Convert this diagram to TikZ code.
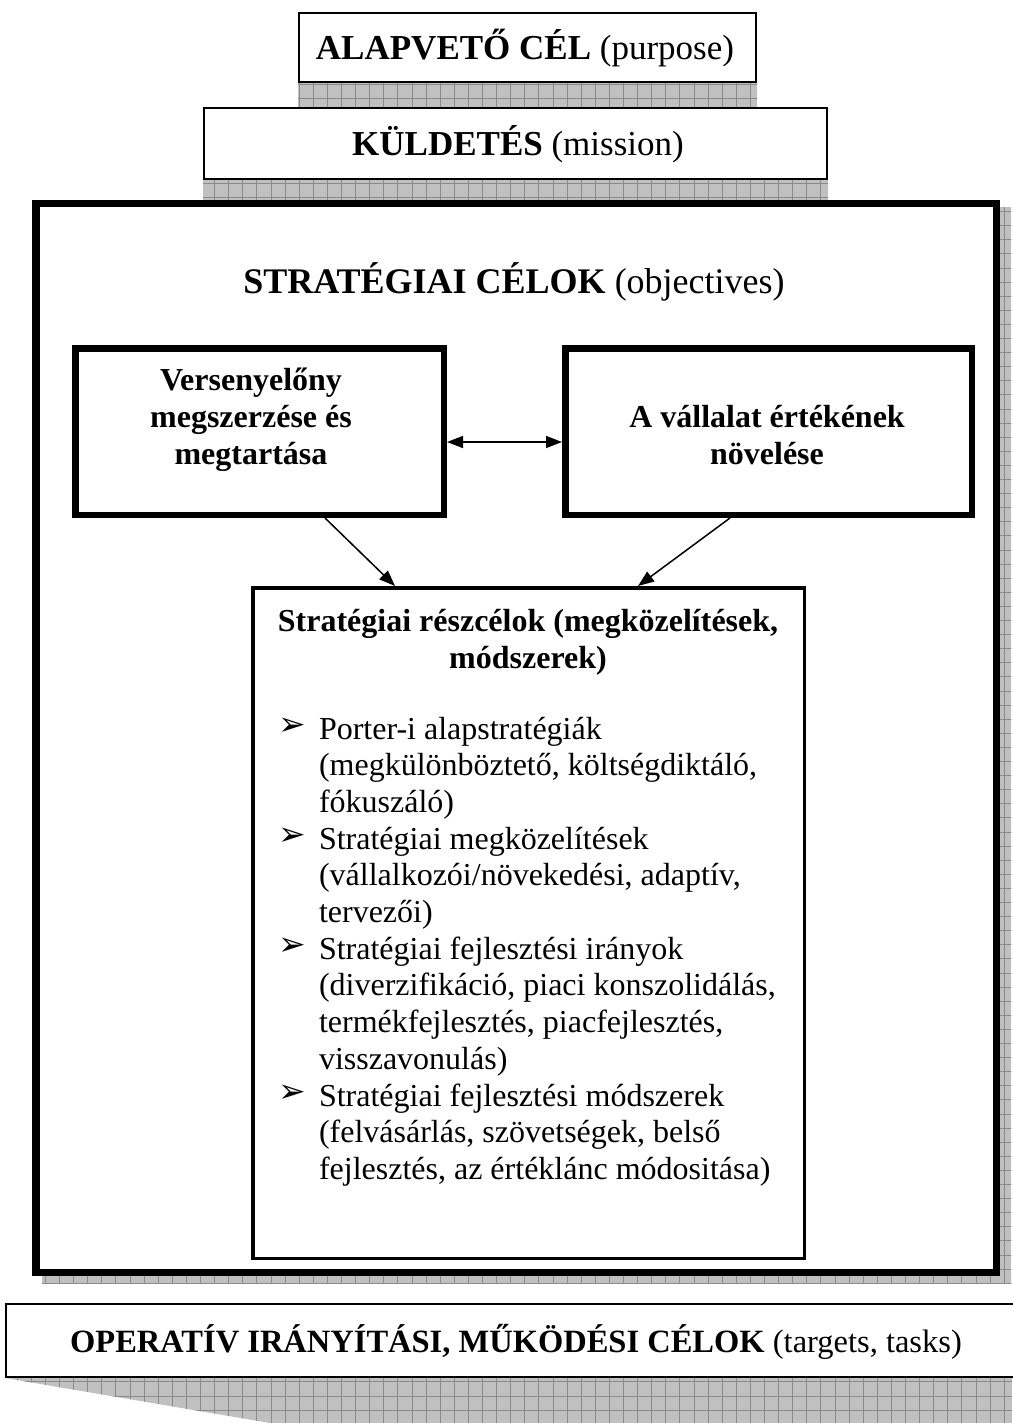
\documentclass[tikz,border=0pt]{standalone}
\usepackage{fontspec}
\setmainfont{Liberation Serif}
\newfontfamily\dingfont{DejaVu Sans Bold}
\usetikzlibrary{arrows.meta}
\definecolor{shadowfill}{HTML}{C0C0C0}
\definecolor{shadowline}{HTML}{8A8A8A}

% gray grid-patterned floor shadow clipped to the given path
\newcommand\gridshadow[1]{%
  \begin{scope}
    \clip #1;
    \fill[shadowfill] (0,0) rectangle (1012,1423);
    \foreach \gx in {3,17.1,...,1012} \draw[shadowline,line width=0.8pt] (\gx,0) -- (\gx,1423);
    \foreach \gy in {0,14.1,...,1423} \draw[shadowline,line width=0.8pt] (0,\gy) -- (1012,\gy);
  \end{scope}}

\tikzset{
  every node/.style={inner sep=0pt, outer sep=0pt},
  thinbox/.style={draw=black, fill=white, line width=2pt, rectangle},
  heavybox/.style={draw=black, fill=white, line width=6.5pt, rectangle},
  framebox/.style={draw=black, fill=white, line width=7.5pt, rectangle},
  subbox/.style={draw=black, fill=white, line width=3.5pt, rectangle},
  headline/.style={font=\fontsize{35}{40}\selectfont, anchor=base},
  bigline/.style={font=\fontsize{36}{44}\selectfont, anchor=base},
  boldline/.style={font=\fontsize{32}{37}\selectfont\bfseries, anchor=base},
  bodyline/.style={font=\fontsize{32}{37}\selectfont, anchor=base west},
  bulletmark/.style={font=\dingfont\fontsize{33}{33}\selectfont, anchor=base west},
  conn/.style={line width=1.5pt, -{Triangle[length=16pt,width=12pt]}},
  biconn/.style={line width=1.5pt, {Triangle[length=16pt,width=12pt]}-{Triangle[length=16pt,width=12pt]}},
}

\begin{document}
\begin{tikzpicture}[x=1pt,y=-1pt]
\useasboundingbox (0,0) rectangle (1012,1423);

% shadows
\gridshadow{(298,83) rectangle (757,108)}
\gridshadow{(203,180) rectangle (828,201)}
\gridshadow{(1000,208) rectangle (1011,1283)}
\gridshadow{(42,1276) rectangle (1011,1283)}
\gridshadow{(5,1378) -- (1012,1378) -- (1012,1423) -- (270,1423) -- cycle}

% top levels
\node[thinbox, minimum width=457pt, minimum height=69pt] (purpose) at (527.5,47.5) {};
\node[headline] (purposetxt) at (525,60) {\textbf{ALAPVETŐ CÉL} (purpose)};

\node[thinbox, minimum width=623pt, minimum height=71pt] (mission) at (515.5,143.5) {};
\node[headline] (missiontxt) at (518,156) {\textbf{KÜLDETÉS} (mission)};

% strategic objectives frame
\node[framebox, minimum width=960.5pt, minimum height=1068.5pt] (frame) at (516,738) {};
\node[bigline] (frametxt) at (514,293) {\textbf{STRATÉGIAI CÉLOK} (objectives)};

% two main objectives
\node[heavybox, minimum width=368.5pt, minimum height=166.5pt] (lbox) at (259.5,431.5) {};
\node[boldline] (l1) at (251,390) {Versenyelőny};
\node[boldline] (l2) at (251,427) {megszerzése és};
\node[boldline] (l3) at (251,464) {megtartása};

\node[heavybox, minimum width=406.5pt, minimum height=166.5pt] (rbox) at (768.5,431.5) {};
\node[boldline] (r1) at (767,427) {A vállalat értékének};
\node[boldline] (r2) at (767,464) {növelése};

% sub-objectives
\node[subbox, minimum width=551.5pt, minimum height=670.5pt] (sub) at (528.5,923) {};
\node[boldline] (s1) at (528,631) {Stratégiai részcélok (megközelítések,};
\node[boldline] (s2) at (528,668) {módszerek)};

\node[bulletmark] (b1) at (278,735) {➢};
\node[bodyline] (t1) at (319,739) {Porter-i alapstratégiák};
\node[bodyline] (t2) at (319,775.7) {(megkülönböztető, költségdiktáló,};
\node[bodyline] (t3) at (319,812.4) {fókuszáló)};
\node[bulletmark] (b2) at (278,845.1) {➢};
\node[bodyline] (t4) at (319,849.1) {Stratégiai megközelítések};
\node[bodyline] (t5) at (319,885.8) {(vállalkozói/növekedési, adaptív,};
\node[bodyline] (t6) at (319,922.5) {tervezői)};
\node[bulletmark] (b3) at (278,955.2) {➢};
\node[bodyline] (t7) at (319,959.2) {Stratégiai fejlesztési irányok};
\node[bodyline] (t8) at (319,995.9) {(diverzifikáció, piaci konszolidálás,};
\node[bodyline] (t9) at (319,1032.6) {termékfejlesztés, piacfejlesztés,};
\node[bodyline] (t10) at (319,1069.3) {visszavonulás)};
\node[bulletmark] (b4) at (278,1102) {➢};
\node[bodyline] (t11) at (319,1106) {Stratégiai fejlesztési módszerek};
\node[bodyline] (t12) at (319,1142.7) {(felvásárlás, szövetségek, belső};
\node[bodyline] (t13) at (319,1179.4) {fejlesztés, az értéklánc módositása)};

% connectors
\coordinate (lside) at (447,442);
\coordinate (rside) at (562,442);
\coordinate (lfoot) at (325,518);
\coordinate (rfoot) at (730,518);
\coordinate (subl) at (395,586);
\coordinate (subr) at (638,586);
\draw[biconn] (lside) -- (rside);
\draw[conn] (lfoot) -- (subl);
\draw[conn] (rfoot) -- (subr);

% operational level
\node[thinbox, minimum width=1009pt, minimum height=73pt] (oper) at (510.5,1340.5) {};
\node[headline, font=\fontsize{32.5}{40}\selectfont] (opertxt) at (516,1352) {\textbf{OPERATÍV IRÁNYÍTÁSI, MŰKÖDÉSI CÉLOK} (targets, tasks)};
\end{tikzpicture}
\end{document}
